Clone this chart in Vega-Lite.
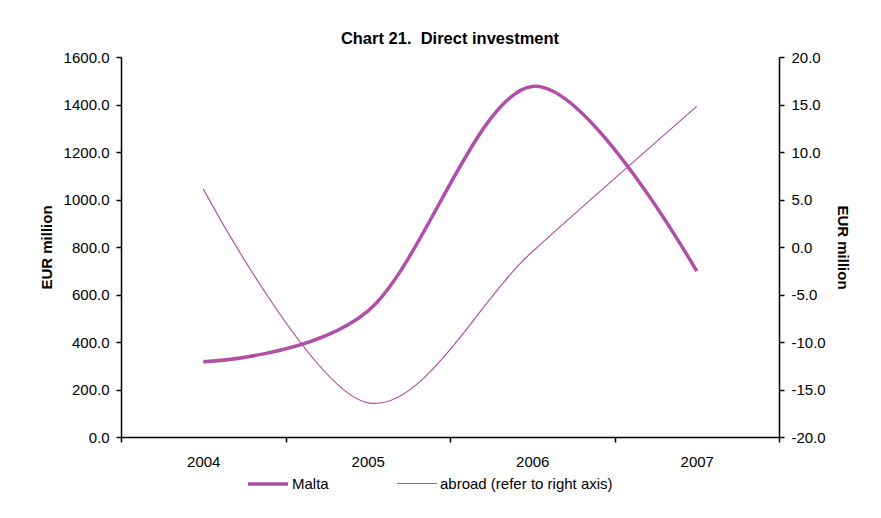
{
  "$schema": "https://vega.github.io/schema/vega-lite/v6.json",
  "width": 658,
  "height": 380,
  "autosize": {"type": "none"},
  "padding": {"left": 121, "top": 57, "right": 102, "bottom": 81},
  "background": "white",
  "title": {"text": "Chart 21.\u00a0 Direct investment", "font": "Liberation Sans", "fontSize": 16.5, "fontWeight": "bold", "color": "black", "anchor": "middle", "offset": 3},
  "data": {
    "values": [
      {"year": "2004", "series": "Malta", "value": 317},
      {"year": "2005", "series": "Malta", "value": 530},
      {"year": "2006", "series": "Malta", "value": 1476},
      {"year": "2007", "series": "Malta", "value": 698},
      {"year": "2004", "series": "abroad (refer to right axis)", "value": 6.1},
      {"year": "2005", "series": "abroad (refer to right axis)", "value": -16.4},
      {"year": "2006", "series": "abroad (refer to right axis)", "value": -0.5},
      {"year": "2007", "series": "abroad (refer to right axis)", "value": 14.8}
    ]
  },
  "encoding": {
    "x": {
      "field": "year",
      "type": "ordinal",
      "bandPosition": 0.5,
      "scale": {"type": "band", "paddingInner": 0, "paddingOuter": 0},
      "axis": {"title": null, "labelAngle": 0, "tickBand": "extent", "labelPadding": 12}
    },
    "color": {
      "field": "series",
      "type": "nominal",
      "scale": {"domain": ["Malta", "abroad (refer to right axis)"], "range": ["#B04FA5", "#B04FA5"]},
      "legend": {"title": null, "orient": "none", "legendX": 125, "legendY": 405, "direction": "horizontal"}
    },
    "strokeWidth": {
      "field": "series",
      "type": "nominal",
      "scale": {"domain": ["Malta", "abroad (refer to right axis)"], "range": [3.5, 1.2]},
      "legend": {"title": null, "orient": "none", "legendX": 125, "legendY": 405, "direction": "horizontal"}
    }
  },
  "layer": [
    {
      "transform": [{"filter": "datum.series === 'Malta'"}],
      "mark": {"type": "line", "interpolate": "cardinal", "tension": 0},
      "encoding": {
        "y": {
          "field": "value",
          "type": "quantitative",
          "scale": {"domain": [0, 1600], "nice": false, "zero": false},
          "axis": {"orient": "left", "title": "EUR million", "format": ".1f", "values": [0, 200, 400, 600, 800, 1000, 1200, 1400, 1600], "labelPadding": 7, "titlePadding": 9}
        }
      }
    },
    {
      "transform": [{"filter": "datum.series !== 'Malta'"}],
      "mark": {"type": "line", "interpolate": "cardinal", "tension": 0},
      "encoding": {
        "y": {
          "field": "value",
          "type": "quantitative",
          "scale": {"domain": [-20, 20], "nice": false, "zero": false},
          "axis": {"orient": "right", "title": "EUR million", "format": ".1f", "labelExpr": "replace(datum.label, '\u2212', '-')", "values": [-20, -15, -10, -5, 0, 5, 10, 15, 20], "labelPadding": 7, "titlePadding": 9}
        }
      }
    }
  ],
  "resolve": {"scale": {"y": "independent"}},
  "config": {
    "view": {"stroke": null},
    "axis": {
      "grid": false,
      "domainColor": "black",
      "domainWidth": 1.5,
      "tickColor": "black",
      "tickWidth": 1.5,
      "tickSize": 5,
      "labelFont": "Liberation Sans",
      "labelFontSize": 15,
      "labelColor": "black",
      "titleFont": "Liberation Sans",
      "titleFontSize": 15,
      "titleFontWeight": "bold",
      "titleColor": "black"
    },
    "legend": {
      "symbolType": "stroke",
      "symbolSize": 1600,
      "labelFont": "Liberation Sans",
      "labelFontSize": 15,
      "labelColor": "black",
      "labelOffset": 2,
      "columnPadding": 65,
      "labelLimit": 300
    }
  }
}
